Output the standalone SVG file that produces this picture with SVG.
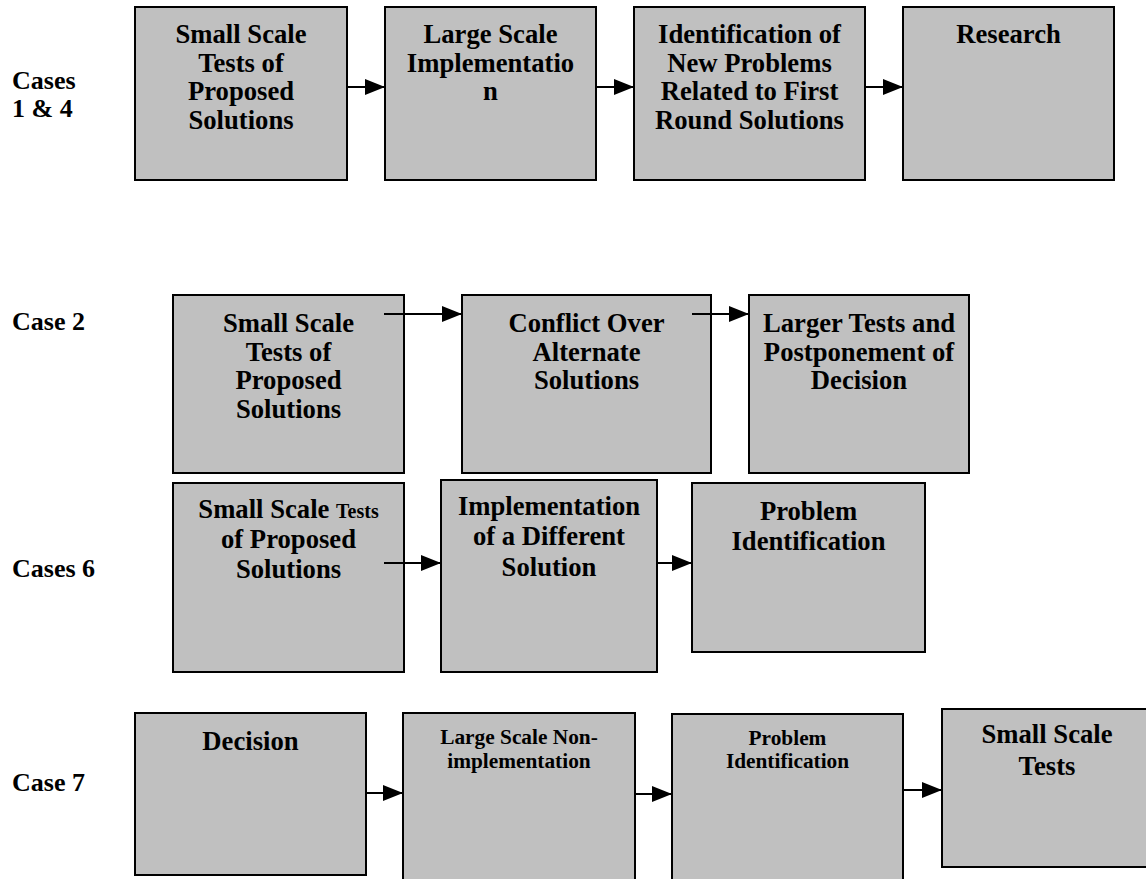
<svg xmlns="http://www.w3.org/2000/svg" width="1146" height="879" viewBox="0 0 1146 879">
<style>
.box{fill:#c0c0c0;stroke:#000;stroke-width:2}
.t{font-family:"Liberation Serif","Times New Roman",serif;font-weight:bold;font-size:26.67px;fill:#000;text-anchor:middle}
.s{font-size:21.33px}
.lbl{font-family:"Liberation Serif","Times New Roman",serif;font-weight:bold;font-size:26px;fill:#000}
.c{stroke:#000;stroke-width:2;fill:none;marker-end:url(#ah)}
</style>
<defs>
<marker id="ah" markerUnits="userSpaceOnUse" markerWidth="20" markerHeight="16" refX="20" refY="8" orient="auto">
<path d="M0,0 L20,8 L0,16 z" fill="#000"/>
</marker>
</defs>
<rect width="1146" height="879" fill="#fff"/>
<g id="labels">
<text class="lbl" x="12" y="89">Cases</text>
<text class="lbl" x="12" y="117">1 &amp; 4</text>
<text class="lbl" x="12" y="330">Case 2</text>
<text class="lbl" x="12" y="577">Cases 6</text>
<text class="lbl" x="12" y="791">Case 7</text>
</g>
<g id="r1n1"><rect class="box" x="135" y="7" width="212" height="173"/>
<text class="t" x="241" y="43">Small Scale</text><text class="t" x="241" y="71.5">Tests of</text><text class="t" x="241" y="100">Proposed</text><text class="t" x="241" y="128.5">Solutions</text></g>
<g id="r1n2"><rect class="box" x="385" y="7" width="211" height="173"/>
<text class="t" x="490.5" y="43">Large Scale</text><text class="t" x="490.5" y="71.5">Implementatio</text><text class="t" x="490.5" y="100">n</text></g>
<g id="r1n3"><rect class="box" x="634" y="7" width="231" height="173"/>
<text class="t" x="749.5" y="43">Identification of</text><text class="t" x="749.5" y="71.5">New Problems</text><text class="t" x="749.5" y="100">Related to First</text><text class="t" x="749.5" y="128.5">Round Solutions</text></g>
<g id="r1n4"><rect class="box" x="903" y="7" width="211" height="173"/>
<text class="t" x="1008.5" y="43">Research</text></g>
<g id="r2n1"><rect class="box" x="173" y="295" width="231" height="178"/>
<text class="t" x="288.5" y="332">Small Scale</text><text class="t" x="288.5" y="360.5">Tests of</text><text class="t" x="288.5" y="389">Proposed</text><text class="t" x="288.5" y="417.5">Solutions</text></g>
<g id="r2n2"><rect class="box" x="462" y="295" width="249" height="178"/>
<text class="t" x="586.5" y="332">Conflict Over</text><text class="t" x="586.5" y="360.5">Alternate</text><text class="t" x="586.5" y="389">Solutions</text></g>
<g id="r2n3"><rect class="box" x="749" y="295" width="220" height="178"/>
<text class="t" x="859" y="332">Larger Tests and</text><text class="t" x="859" y="360.5">Postponement of</text><text class="t" x="859" y="389">Decision</text></g>
<g id="r3n1"><rect class="box" x="173" y="483" width="231" height="189"/>
<text class="t" x="288.5" y="518">Small Scale <tspan style="font-size:20px">Tests</tspan></text><text class="t" x="288.5" y="548">of Proposed</text><text class="t" x="288.5" y="578">Solutions</text></g>
<g id="r3n2"><rect class="box" x="441" y="480" width="216" height="192"/>
<text class="t" x="549" y="515">Implementation</text><text class="t" x="549" y="545">of a Different</text><text class="t" x="549" y="576">Solution</text></g>
<g id="r3n3"><rect class="box" x="692" y="483" width="233" height="169"/>
<text class="t" x="808.5" y="520">Problem</text><text class="t" x="808.5" y="550">Identification</text></g>
<g id="r4n1"><rect class="box" x="135" y="713" width="231" height="162"/>
<text class="t" x="250.5" y="750">Decision</text></g>
<g id="r4n2"><rect class="box" x="403" y="713" width="232" height="180"/>
<text class="t s" x="519" y="744">Large Scale Non-</text><text class="t s" x="519" y="768">implementation</text></g>
<g id="r4n3"><rect class="box" x="672" y="714" width="231" height="180"/>
<text class="t s" x="787.5" y="745">Problem</text><text class="t s" x="787.5" y="768">Identification</text></g>
<g id="r4n4"><rect class="box" x="942" y="709" width="212" height="158"/>
<text class="t" x="1047" y="743">Small Scale</text><text class="t" x="1047" y="775">Tests</text></g>
<g id="connectors">
<line class="c" x1="347" y1="87" x2="385" y2="87"/>
<line class="c" x1="596" y1="87" x2="634" y2="87"/>
<line class="c" x1="865" y1="87" x2="903" y2="87"/>
<line class="c" x1="384" y1="314" x2="462" y2="314"/>
<line class="c" x1="692" y1="314" x2="749" y2="314"/>
<line class="c" x1="384" y1="563" x2="441" y2="563"/>
<line class="c" x1="657" y1="563" x2="692" y2="563"/>
<line class="c" x1="366" y1="793" x2="403" y2="793"/>
<line class="c" x1="635" y1="794" x2="672" y2="794"/>
<line class="c" x1="903" y1="790" x2="942" y2="790"/>
</g>
</svg>
